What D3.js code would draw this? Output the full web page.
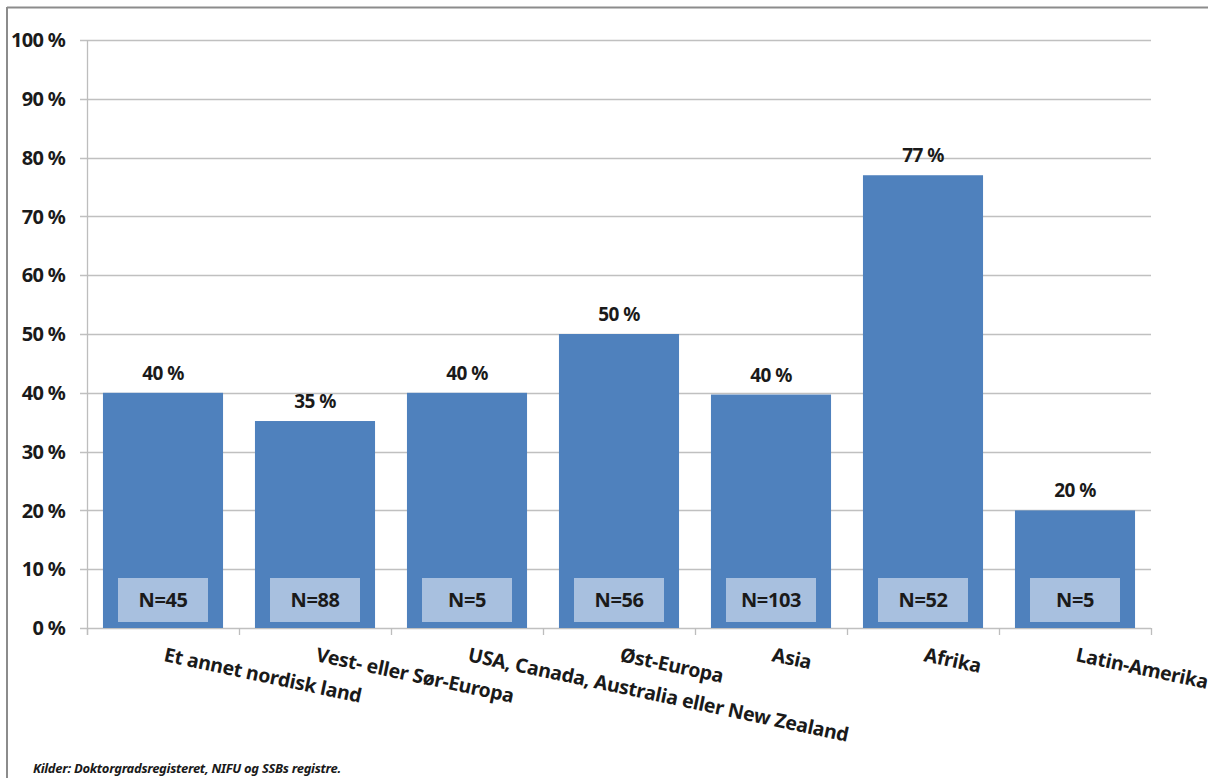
<!DOCTYPE html>
<html>
<head>
<meta charset="utf-8">
<script src="https://cdn.jsdelivr.net/npm/d3@7"></script>
<style>
  html, body { margin: 0; padding: 0; background: #fff; }
  svg { display: block; }
  text { font-family: "Noto Sans", "Open Sans", sans-serif; font-weight: bold; fill: #1a1a1a; }
</style>
</head>
<body>
<svg id="chart" width="1218" height="778"></svg>
<script>
const categories = ["Et annet nordisk land", "Vest- eller Sør-Europa", "USA, Canada, Australia eller New Zealand", "Øst-Europa", "Asia", "Afrika", "Latin-Amerika"];
const values = [40, 35.2, 40, 50, 39.7, 77, 20];
const valueLabels = ["40 %", "35 %", "40 %", "50 %", "40 %", "77 %", "20 %"];
const nLabels = ["N=45", "N=88", "N=5", "N=56", "N=103", "N=52", "N=5"];
const yTicks = [0, 10, 20, 30, 40, 50, 60, 70, 80, 90, 100];
const source = "Kilder: Doktorgradsregisteret, NIFU og SSBs registre.";

const svg = d3.select("#chart");
const m = { left: 87, right: 1151, top: 40, bottom: 628 };

// frame
svg.append("line").attr("x1", 7).attr("x2", 1208).attr("y1", 7.5).attr("y2", 7.5).attr("stroke", "#8c8c8c").attr("stroke-width", 2);
svg.append("line").attr("x1", 7).attr("x2", 7).attr("y1", 7).attr("y2", 778).attr("stroke", "#8c8c8c").attr("stroke-width", 2);

const x = d3.scaleBand().domain(categories).range([m.left, m.right]).paddingInner(0.21).paddingOuter(0.105);
const xOuter = d3.scaleBand().domain(categories).range([m.left, m.right]);
const y = d3.scaleLinear().domain([0, 100]).range([m.bottom, m.top]);

// gridlines
svg.append("g").selectAll("line").data(yTicks).join("line")
  .attr("x1", m.left - 7).attr("x2", m.right)
  .attr("y1", d => Math.round(y(d)) + 0.5).attr("y2", d => Math.round(y(d)) + 0.5)
  .attr("stroke", "#c0c0c0").attr("stroke-width", 1.3);

// y axis line
svg.append("line").attr("x1", m.left + 0.5).attr("x2", m.left + 0.5).attr("y1", m.top).attr("y2", m.bottom + 7)
  .attr("stroke", "#bdbdbd").attr("stroke-width", 1.3);

// x ticks at category boundaries
const bounds = categories.map(c => xOuter(c)).concat([m.right]);
svg.append("g").selectAll("line").data(bounds).join("line")
  .attr("x1", d => Math.round(d) + 0.5).attr("x2", d => Math.round(d) + 0.5)
  .attr("y1", m.bottom).attr("y2", m.bottom + 7)
  .attr("stroke", "#bdbdbd").attr("stroke-width", 1.3);

// y labels
svg.append("g").selectAll("text").data(yTicks).join("text")
  .attr("x", 65).attr("y", d => y(d)).attr("dy", "0.36em")
  .attr("text-anchor", "end").attr("font-size", 20).attr("letter-spacing", -0.7)
  .text(d => d + " %");

// bars
const data = categories.map((c, i) => ({ c, v: values[i], lab: valueLabels[i], n: nLabels[i] }));
svg.append("g").selectAll("rect").data(data).join("rect")
  .attr("x", d => x(d.c)).attr("width", x.bandwidth())
  .attr("y", d => y(d.v)).attr("height", d => y(0) - y(d.v))
  .attr("fill", "#4f81bd");

// value labels
svg.append("g").selectAll("text").data(data).join("text")
  .attr("x", d => x(d.c) + x.bandwidth() / 2).attr("y", d => y(d.v) - 13)
  .attr("text-anchor", "middle").attr("font-size", 19).attr("letter-spacing", -0.6)
  .text(d => d.lab);

// N boxes
const boxW = 90, boxH = 44;
const nG = svg.append("g").selectAll("g").data(data).join("g")
  .attr("transform", d => `translate(${x(d.c) + x.bandwidth() / 2},${y(0) - 6 - boxH / 2})`);
nG.append("rect").attr("x", -boxW / 2).attr("y", -boxH / 2).attr("width", boxW).attr("height", boxH).attr("fill", "#a8c0df");
nG.append("text").attr("text-anchor", "middle").attr("dy", "0.36em").attr("font-size", 20).attr("letter-spacing", -0.4)
  .text(d => d.n);

// x labels rotated
svg.append("g").selectAll("text").data(categories).join("text")
  .attr("transform", d => `translate(${xOuter(d) + xOuter.bandwidth() / 2},${m.bottom + 33}) rotate(12)`)
  .attr("text-anchor", "start").attr("font-size", 19.5).attr("letter-spacing", -0.3)
  .text(d => d);

// source
svg.append("text").attr("x", 33).attr("y", 773)
  .attr("font-size", 13).attr("font-style", "italic").attr("letter-spacing", -0.3)
  .text(source);
</script>
</body>
</html>
